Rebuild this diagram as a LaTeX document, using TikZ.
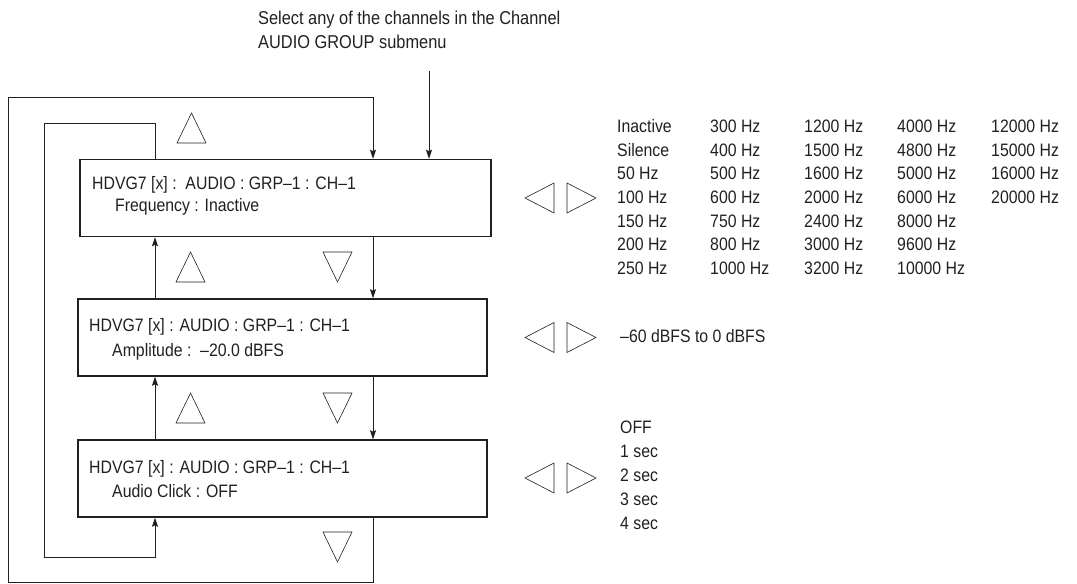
\documentclass[tikz,border=0pt]{standalone}
\usepackage{fontspec}
\setmainfont{Liberation Sans}[FakeStretch=0.88]
\usetikzlibrary{arrows.meta}
\definecolor{ink}{HTML}{231F20}
\begin{document}
\begin{tikzpicture}[x=1pt,y=-1pt,
  menubox/.style={draw=ink,line width=1.5pt,minimum height=77pt,inner sep=0pt},
  conn/.style={draw=ink,line width=0.8pt},
  arr/.style={conn,-{Stealth[length=9pt,width=6pt,inset=1.5pt]}},
  tri/.style={draw=ink,line width=0.6pt,line join=miter},
  txt/.style={text=ink,inner sep=0pt,anchor=base west,font=\fontsize{18}{20}\selectfont},
  notetxt/.style={txt,font=\fontsize{18.6}{20}\selectfont}
]
\useasboundingbox (0,0) rectangle (1077,584);

% menu boxes
\node[menubox,minimum width=411pt] (b1) at (285.5,198) {};
\node[menubox,minimum width=409pt] (b2) at (282.5,337.5) {};
\node[menubox,minimum width=409pt] (b3) at (282.5,478.5) {};

% box texts
\node[txt] (b1l1) at (92,189.5) {HDVG7 [x] :\ \ AUDIO : GRP–1 : CH–1};
\node[txt] (b1l2) at (115,211.5) {Frequency : Inactive};
\node[txt] (b2l1) at (89,331.5) {HDVG7 [x] : AUDIO : GRP–1 : CH–1};
\node[txt] (b2l2) at (112,356.5) {Amplitude :\ \ –20.0 dBFS};
\node[txt] (b3l1) at (89,473.5) {HDVG7 [x] : AUDIO : GRP–1 : CH–1};
\node[txt] (b3l2) at (112,497.5) {Audio Click : OFF};

% top note
\node[notetxt] (note1) at (258,24.5) {Select any of the channels in the Channel};
\node[notetxt] (note2) at (258,48.5) {AUDIO GROUP submenu};

% connector columns
\coordinate (cR) at (373,0);
\coordinate (cL) at (155,0);
\coordinate (entry) at (429,71);
\coordinate (oTR) at (373,97);
\coordinate (oTL) at (8,97);
\coordinate (oBL) at (8,582);
\coordinate (oBR) at (373,582);
\coordinate (iTR) at (155,123);
\coordinate (iTL) at (44,123);
\coordinate (iBL) at (44,557);
\coordinate (iBR) at (155,557);

\draw[arr] (entry) -- (b1.north -| entry);
\draw[arr] (b1.south -| cR) -- (b2.north -| cR);
\draw[arr] (b2.south -| cR) -- (b3.north -| cR);
\draw[arr] (b2.north -| cL) -- (b1.south -| cL);
\draw[arr] (b3.north -| cL) -- (b2.south -| cL);
\draw[arr] (b3.south -| cR) -- (oBR) -- (oBL) -- (oTL) -- (oTR) -- (b1.north -| cR);
\draw[arr] (b1.north -| cL) -- (iTR) -- (iTL) -- (iBL) -- (iBR) -- (b3.south -| cL);

% up / down triangles
\newcommand\uptri[2]{\draw[tri] (#1-14.5,#2+15) -- (#1+14.5,#2+15) -- (#1,#2-15) -- cycle;}
\newcommand\dntri[2]{\draw[tri] (#1-14.5,#2-15) -- (#1+14.5,#2-15) -- (#1,#2+15) -- cycle;}
\newcommand\lrtri[1]{%
  \draw[tri] (554,#1-15) -- (554,#1+15) -- (525,#1) -- cycle;
  \draw[tri] (567,#1-15) -- (567,#1+15) -- (596,#1) -- cycle;}
\uptri{191.5}{128}
\uptri{190.5}{267}
\dntri{337.5}{267}
\uptri{190.5}{408}
\dntri{337.5}{408}
\dntri{337.5}{547}
\lrtri{198}
\lrtri{337.5}
\lrtri{478}

% frequency table
\foreach \t [count=\i from 0] in {Inactive,Silence,50 Hz,100 Hz,150 Hz,200 Hz,250 Hz}
  \node[txt] (fa\i) at (617,132.5+23.67*\i) {\t};
\foreach \t [count=\i from 0] in {300 Hz,400 Hz,500 Hz,600 Hz,750 Hz,800 Hz,1000 Hz}
  \node[txt] (fb\i) at (710,132.5+23.67*\i) {\t};
\foreach \t [count=\i from 0] in {1200 Hz,1500 Hz,1600 Hz,2000 Hz,2400 Hz,3000 Hz,3200 Hz}
  \node[txt] (fc\i) at (804,132.5+23.67*\i) {\t};
\foreach \t [count=\i from 0] in {4000 Hz,4800 Hz,5000 Hz,6000 Hz,8000 Hz,9600 Hz,10000 Hz}
  \node[txt] (fd\i) at (897,132.5+23.67*\i) {\t};
\foreach \t [count=\i from 0] in {12000 Hz,15000 Hz,16000 Hz,20000 Hz}
  \node[txt] (fe\i) at (991,132.5+23.67*\i) {\t};

% amplitude range
\node[txt] (amp) at (620,342.5) {–60 dBFS to 0 dBFS};

% audio click values
\foreach \t [count=\i from 0] in {OFF,1 sec,2 sec,3 sec,4 sec}
  \node[txt] (ac\i) at (620,433.5+24*\i) {\t};
\end{tikzpicture}
\end{document}
